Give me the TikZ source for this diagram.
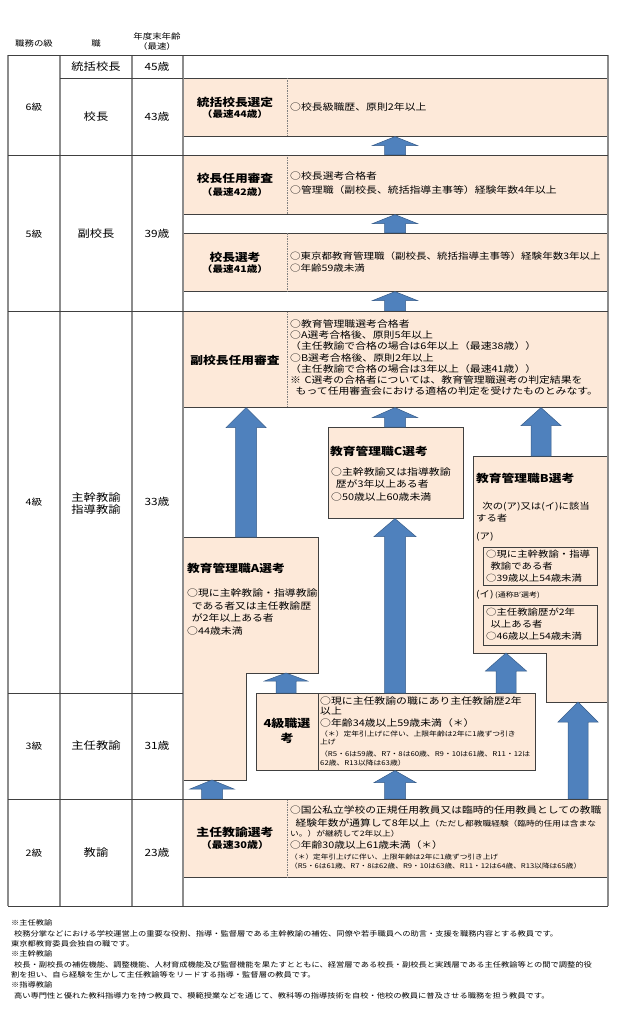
\documentclass[tikz,border=0pt]{standalone}
\usepackage{fontspec}
\setmainfont{Noto Sans CJK JP}[FakeStretch=1.18]
\usetikzlibrary{calc}

\definecolor{peach}{RGB}{253,233,217}
\definecolor{boxline}{RGB}{64,64,64}
\definecolor{gridgray}{RGB}{140,140,140}
\definecolor{arrowblue}{RGB}{79,129,189}
\definecolor{arrowedge}{RGB}{56,93,138}

\newcommand{\fsize}[2]{\fontsize{#1}{#2}\selectfont}

\tikzset{
  gridv/.style={draw=gridgray, line width=1.1pt},
  gridh/.style={draw=black!75, line width=0.7pt},
  peachbox/.style={draw=boxline, fill=peach, line width=0.6pt},
  innerbox/.style={draw=boxline, line width=0.6pt},
  divider/.style={draw=gray, line width=0.6pt, dash pattern=on 1.5pt off 1pt},
  blockarrow/.style={fill=arrowblue, draw=arrowedge, line width=0.5pt},
  headtext/.style={font=\fsize{8}{9.5}, inner sep=0pt, align=center},
  gradetext/.style={font=\fsize{9}{11}, inner sep=0pt},
  postext/.style={font=\fsize{10.4}{12.5}, inner sep=0pt, align=center},
  agetext/.style={font=\fsize{10}{12}, inner sep=0pt},
  stagetitle/.style={font=\bfseries\fsize{10.8}{13}, inner sep=0pt},
  stagesub/.style={font=\bfseries\fsize{9}{10}, inner sep=0pt},
  body/.style={font=\fsize{9.2}{#1}, inner sep=0pt, align=left, anchor=north west},
  body/.default=11.5,
  bbody/.style={font=\fsize{8.8}{#1}, inner sep=0pt, align=left, anchor=north west},
  bbody/.default=11.8,
  qbody/.style={font=\fsize{9.2}{11}, inner sep=0pt, anchor=west},
  qsmall/.style={font=\fsize{6.6}{8}, inner sep=0pt, anchor=west},
  sbody/.style={font=\fsize{9.1}{11}, inner sep=0pt, anchor=west},
  ssmall/.style={font=\fsize{6.5}{8}, inner sep=0pt, anchor=west},
  note/.style={font=\fsize{7}{8.5}, inner sep=0pt, anchor=west},
}

% peach box as node: name, x1, y1, x2, y2
\newcommand{\pbox}[5]{\node[peachbox, anchor=north west, inner sep=0pt,
  minimum width={(#4-#2)*1pt}, minimum height={(#5-#3)*1pt}] (#1) at (#2,#3) {};}

% block arrow pointing up: bottom point, tip point, half shaft, half head, head length
\newcommand{\blockup}[5]{\path[blockarrow] let \p1=#1, \p2=#2 in
  (\x1-#3pt,\y1) -- (\x1-#3pt,\y2-#5pt) -- (\x1-#4pt,\y2-#5pt) -- (\x1,\y2)
  -- (\x1+#4pt,\y2-#5pt) -- (\x1+#3pt,\y2-#5pt) -- (\x1+#3pt,\y1) -- cycle;}

\begin{document}
\begin{tikzpicture}[x=1pt, y=-1pt]
\useasboundingbox (0,0) rectangle (618,1024);
\fill[white] (0,0) rectangle (618,1024);

% header
\node[headtext] (h-grade) at (34,43) {職務の級};
\node[headtext] (h-pos) at (96,43) {職};
\node[headtext] (h-age) at (157,41.5) {年度末年齢\\（最速）};

% stage boxes
\pbox{tokatsu}{183}{78}{608}{136}
\pbox{kochonin}{183}{155}{608}{214}
\pbox{kochosen}{183}{233}{608}{291}
\pbox{fukunin}{183}{311}{608}{407}
\pbox{kyoC}{328}{427}{463}{518}
\pbox{yonkyu}{256}{693}{535}{770}
\pbox{shunin}{183}{799}{608}{877}

\draw[peachbox] (183,537) coordinate (kyoA-nw) -- (318,537) -- (318,673) coordinate (kyoA-step)
  -- (246,673) -- (246,780) -- (183,780) coordinate (kyoA-sw) -- cycle;
\draw[peachbox] (473,456) coordinate (kyoB-nw) -- (608,456) -- (608,702) coordinate (kyoB-se)
  -- (546,702) -- (546,653) -- (473,653) coordinate (kyoB-sw) -- cycle;
\draw[innerbox] (483,547) rectangle (597,585);
\draw[innerbox] (483,605) rectangle (597,645);

\draw[divider] (tokatsu.north west) ++(104,0) -- ++(0,58);
\draw[divider] (kochonin.north west) ++(104,0) -- ++(0,59);
\draw[divider] (kochosen.north west) ++(104,0) -- ++(0,58);
\draw[divider] (fukunin.north west) ++(104,0) -- ++(0,96);
\draw[divider] (shunin.north west) ++(104,0) -- ++(0,78);
\draw[boxline, line width=0.6pt] (yonkyu.north west) ++(62,0) -- ++(0,77);

% arrows
\coordinate (colC) at (395,0);
\coordinate (colA) at (246,0);
\coordinate (colB) at (541,0);
\coordinate (colAs) at (286,0);
\coordinate (colBs) at (506,0);
\coordinate (colL) at (212,0);
\coordinate (colR) at (578,0);

\blockup{(colC |- kochonin.north)}{(colC |- tokatsu.south)}{10.5}{22.5}{9}
\blockup{(colC |- kochosen.north)}{(colC |- kochonin.south)}{10.5}{22.5}{9}
\blockup{(colC |- fukunin.north)}{(colC |- kochosen.south)}{10.5}{22.5}{9}
\blockup{(colA |- kyoA-nw)}{(colA |- fukunin.south)}{10.5}{20}{20}
\blockup{(colC |- kyoC.north)}{(colC |- fukunin.south)}{10.5}{22.5}{10}
\blockup{(colB |- kyoB-nw)}{(colB |- fukunin.south)}{10}{20}{18}
\blockup{(colC |- yonkyu.north)}{(colC |- kyoC.south)}{10.5}{21}{18}
\blockup{(colAs |- yonkyu.north)}{(colAs |- kyoA-step)}{10}{21.5}{8}
\blockup{(colBs |- yonkyu.north)}{(colBs |- kyoB-sw)}{10}{20.5}{18}
\blockup{(colC |- shunin.north)}{(colC |- yonkyu.south)}{10.5}{21}{12}
\blockup{(colL |- shunin.north)}{(colL |- kyoA-sw)}{10.5}{22}{9}
\blockup{(colR |- shunin.north)}{(colR |- kyoB-se)}{10}{20}{20}

% table lines
\draw[gridv] (8,55) -- (8,906);
\draw[gridv] (60,55) -- (60,906);
\draw[gridv] (132,55) -- (132,906);
\draw[gridv] (183,55) -- (183,906);
\draw[gridv] (608,55) -- (608,906);
\draw[gridh] (8,55) -- (608,55);
\draw[gridh] (60,78) -- (183,78);
\draw[gridh] (8,155) -- (608,155);
\draw[gridh] (8,311) -- (608,311);
\draw[gridh] (8,693) -- (183,693);
\draw[gridh] (8,799) -- (608,799);
\draw[gridh] (8,906) -- (608,906);

% grades, posts, ages
\node[gradetext] (g6) at (34,107) {6級};
\node[postext] (p-tokatsu) at (96,67) {統括校長};
\node[agetext] (a-tokatsu) at (157,67) {45歳};
\node[postext] (p-kocho) at (96,117) {校長};
\node[agetext] (a-kocho) at (157,117) {43歳};
\node[gradetext] (g5) at (34,234) {5級};
\node[postext] (p-fuku) at (96,234) {副校長};
\node[agetext] (a-fuku) at (157,234) {39歳};
\node[gradetext] (g4) at (34,502) {4級};
\node[postext] (p-shukan) at (96,503.5) {主幹教諭\\指導教諭};
\node[agetext] (a-shukan) at (157,502) {33歳};
\node[gradetext] (g3) at (34,746) {3級};
\node[postext] (p-shunin) at (96,746) {主任教諭};
\node[agetext] (a-shunin) at (157,746) {31歳};
\node[gradetext] (g2) at (34,853) {2級};
\node[postext] (p-kyoyu) at (96,853) {教諭};
\node[agetext] (a-kyoyu) at (157,853) {23歳};

% stage texts
\node[stagetitle] (t-tokatsu) at (235,102) {統括校長選定};
\node[stagesub] at (235,114.5) {（最速44歳）};
\node[body, anchor=west] at (290,107) {○校長級職歴、原則2年以上};

\node[stagetitle] (t-kochonin) at (235,178) {校長任用審査};
\node[stagesub] at (235,192) {（最速42歳）};
\node[body=14.5] at (290,171.5) {○校長選考合格者\\○管理職（副校長、統括指導主事等）経験年数4年以上};

\node[stagetitle] (t-kochosen) at (235,257) {校長選考};
\node[stagesub] at (235,269.5) {（最速41歳）};
\node[body=11.8, font=\fsize{8.9}{11.8}] at (290,252) {○東京都教育管理職（副校長、統括指導主事等）経験年数3年以上\\○年齢59歳未満};

\node[stagetitle] (t-fukunin) at (235,360) {副校長任用審査};
\node[body=11.2] at (290,319.5) {○教育管理職選考合格者\\○A選考合格後、原則5年以上\\（主任教諭で合格の場合は6年以上（最速38歳））\\○B選考合格後、原則2年以上\\（主任教諭で合格の場合は3年以上（最速41歳））\\※\hspace{0.4em}C選考の合格者については、教育管理職選考の判定結果を\\\hspace{0.6em}もって任用審査会における適格の判定を受けたものとみなす。};

\node[stagetitle, anchor=west] (t-kyoC) at (330,451) {教育管理職C選考};
\node[body=12.5] at (331,467.5) {○主幹教諭又は指導教諭\\\hspace{0.5em}歴が3年以上ある者\\○50歳以上60歳未満};

\node[stagetitle, anchor=west] (t-kyoA) at (187,568) {教育管理職A選考};
\node[body=12.7] at (187,588.5) {○現に主幹教諭・指導教諭\\\hspace{0.5em}である者又は主任教諭歴\\\hspace{0.5em}が2年以上ある者\\○44歳未満};

\node[stagetitle, anchor=west] (t-kyoB) at (476,478) {教育管理職B選考};
\node[bbody=12] at (476,501.5) {\hspace{0.7em}次の(ア)又は(イ)に該当\\する者};
\node[bbody, anchor=west] at (476,537) {(ア)};
\node[bbody=12] at (486,549.5) {○現に主幹教諭・指導\\\hspace{0.5em}教諭である者\\○39歳以上54歳未満};
\node[bbody, anchor=west] at (476,595) {(イ)\,{\fsize{6.8}{8}(通称B’選考)}};
\node[bbody=12.3] at (486,607.5) {○主任教諭歴が2年\\\hspace{0.5em}以上ある者\\○46歳以上54歳未満};

\node[font=\bfseries\fsize{11}{15.5}, inner sep=0pt, align=center] (t-yonkyu) at (287,731) {4級職選\\考};
\node[qbody] at (320,701) {○現に主任教諭の職にあり主任教諭歴2年};
\node[qbody] at (320,711.5) {以上};
\node[qbody] at (320,722.5) {○年齢34歳以上59歳未満（＊）};
\node[qsmall] at (320,733.5) {（＊）定年引上げに伴い、上限年齢は2年に1歳ずつ引き};
\node[qsmall] at (320,742.5) {上げ};
\node[qsmall] at (320,754) {（R5・6は59歳、R7・8は60歳、R9・10は61歳、R11・12は};
\node[qsmall] at (320,763) {62歳、R13以降は63歳）};

\node[font=\bfseries\fsize{10.9}{13}, inner sep=0pt] (t-shunin) at (235,832) {主任教諭選考};
\node[font=\bfseries\fsize{9.3}{11}, inner sep=0pt] at (235,845) {（最速30歳）};
\node[sbody] at (290,810) {○国公私立学校の正規任用教員又は臨時的任用教員としての教職};
\node[sbody] at (290,823) {\hspace{0.6em}経験年数が通算して8年以上{\fsize{7.4}{9}（ただし都教職経験（臨時的任用は含まな}};
\node[sbody, font=\fsize{7.4}{9}] at (290,834) {い。）が継続して2年以上）};
\node[sbody] at (290,845.5) {○年齢30歳以上61歳未満（＊）};
\node[ssmall] at (290,857) {（＊）定年引上げに伴い、上限年齢は2年に1歳ずつ引き上げ};
\node[ssmall] at (290,866.5) {（R5・6は61歳、R7・8は62歳、R9・10は63歳、R11・12は64歳、R13以降は65歳）};

% notes
\node[note] (n1) at (11,923) {※主任教諭};
\node[note] at (14,933.5) {校務分掌などにおける学校運営上の重要な役割、指導・監督層である主幹教諭の補佐、同僚や若手職員への助言・支援を職務内容とする教員です。};
\node[note] at (11,944) {東京都教育委員会独自の職です。};
\node[note] (n2) at (11,954) {※主幹教諭};
\node[note] at (14,964.5) {校長・副校長の補佐機能、調整機能、人材育成機能及び監督機能を果たすとともに、経営層である校長・副校長と実践層である主任教諭等との間で調整的役};
\node[note] at (11,975) {割を担い、自ら経験を生かして主任教諭等をリードする指導・監督層の教員です。};
\node[note] (n3) at (11,985) {※指導教諭};
\node[note] at (14,995.5) {高い専門性と優れた教科指導力を持つ教員で、模範授業などを通じて、教科等の指導技術を自校・他校の教員に普及させる職務を担う教員です。};
\end{tikzpicture}
\end{document}
